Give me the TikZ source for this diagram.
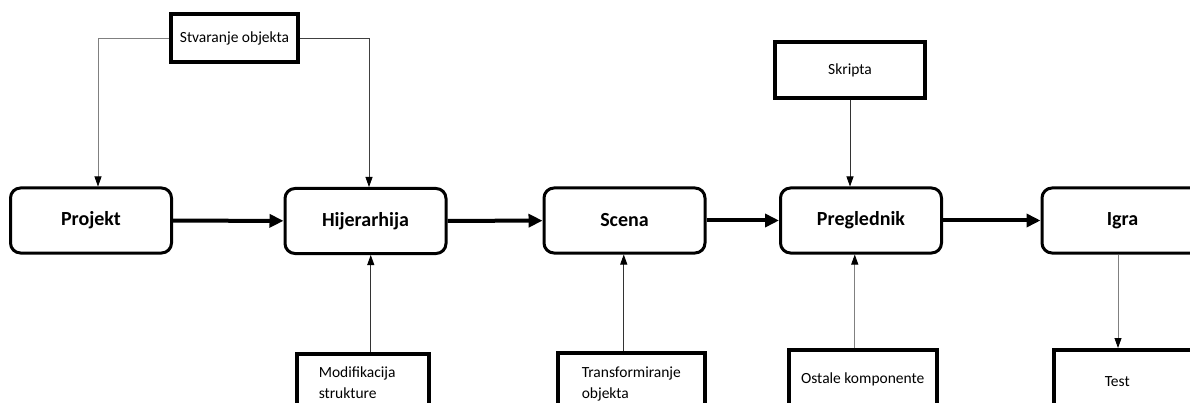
\documentclass[tikz,border=0pt]{standalone}
\usepackage{fontspec}
\setmainfont{Carlito}
\usetikzlibrary{arrows.meta}
\tikzset{
  stage/.style={draw, line width=3pt, rounded corners=10pt, minimum width=161pt, minimum height=65pt, font=\fontsize{20}{24}\selectfont\bfseries},
  helper/.style={draw, line width=3.5pt, font=\fontsize{15.5}{21}\selectfont},
  feed/.style={line width=0.8pt, -{Triangle[length=10pt, width=7pt, color=black]}},
  flow/.style={line width=4pt, -{Triangle[length=14pt, width=13pt]}}
}
\begin{document}
\begin{tikzpicture}[x=1pt, y=-1pt]
\useasboundingbox (0,0) rectangle (1190,403);
\clip (0,0) rectangle (1190,403);
\node[stage] (proj) at (91,220.5) {Projekt};
\node[stage] (hij) at (365.5,221) {Hijerarhija};
\node[stage] (scena) at (624.5,220.5) {Scena};
\node[stage] (pregl) at (861,220.5) {Preglednik};
\node[stage] (igra) at (1122.5,220.5) {Igra};
\node[helper, minimum width=127pt, minimum height=48pt] (stv) at (234.5,38) {Stvaranje objekta};
\node[helper, minimum width=150pt, minimum height=56pt] (skr) at (850,70) {Skripta};
\node[helper, anchor=north west, minimum height=58pt, inner xsep=22pt, text width=88pt, align=left] (mod) at (295,352) {Modifikacija\\strukture};
\node[helper, anchor=north west, minimum height=62pt, inner xsep=24pt, text width=99pt, align=left] (trans) at (556,351) {Transformiranje\\objekta};
\node[helper, anchor=north west, minimum width=148pt, minimum height=60pt] (ost) at (787,348) {Ostale komponente};
\node[helper, anchor=north west, minimum height=64pt, inner xsep=51pt, text width=46pt, align=left] (test) at (1052,348) {Test};
\draw[flow] (proj) -- (hij);
\draw[flow] (hij) -- (scena);
\draw[flow] (scena) -- (pregl);
\draw[flow] (pregl) -- (igra);
\draw[feed, gray] (stv.west) -| ([xshift=7pt]proj.north);
\draw[feed, black!75] (stv.east) -| ([xshift=3.5pt]hij.north);
\draw[feed, black!80] (skr.south) -- (skr.south |- pregl.north);
\draw[feed, black!80] ([xshift=8pt]mod.north) -- ([xshift=8pt]mod.north |- hij.south);
\draw[feed, black!80] ([xshift=-7.5pt]trans.north) -- ([xshift=-7.5pt]trans.north |- scena.south);
\draw[feed, gray] ([xshift=-8pt]ost.north) -- ([xshift=-8pt]ost.north |- pregl.south);
\draw[feed, gray] ([xshift=-4.5pt]igra.south) -- ([xshift=-4.5pt]igra.south |- test.north);
\end{tikzpicture}
\end{document}
